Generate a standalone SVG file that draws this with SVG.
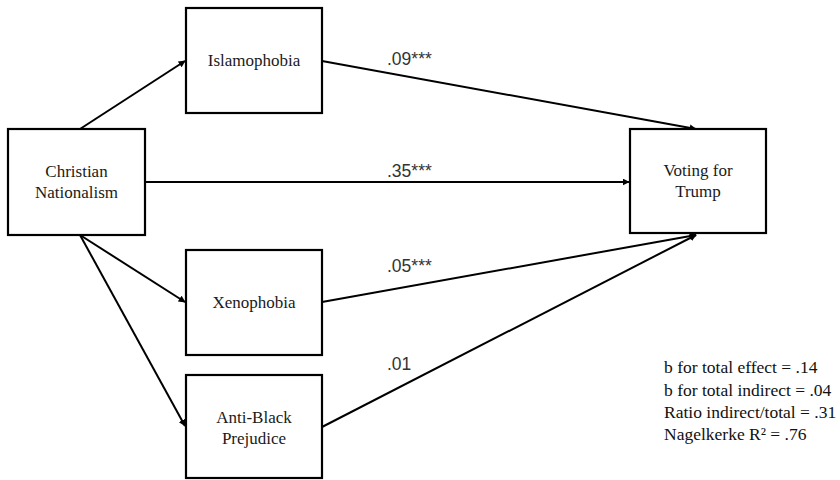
<svg xmlns="http://www.w3.org/2000/svg" width="840" height="480" viewBox="0 0 840 480">
<style>
.box{fill:#fff;stroke:#000;stroke-width:2.2}
.t{font-size:17px;fill:#1a1a1a;text-anchor:middle}
.lbl{font-size:17.5px;fill:#333}
.st{font-size:17.5px;fill:#111}
.c{stroke:#000;stroke-width:2;fill:none;marker-end:url(#ah)}
</style>
<defs>
<marker id="ah" viewBox="0 0 10 10" refX="9" refY="5" markerWidth="3.5" markerHeight="3.5" orient="auto" markerUnits="strokeWidth">
<path d="M0,0 L10,5 L0,10 z" fill="#000"/>
</marker>
</defs>
<rect width="840" height="480" fill="#fff"/>
<g id="connectors">
<line class="c" x1="80" y1="129" x2="185" y2="61"/>
<line class="c" x1="322" y1="61" x2="696" y2="129"/>
<line class="c" x1="145" y1="182" x2="629" y2="182"/>
<line class="c" x1="80" y1="235" x2="185" y2="302"/>
<line class="c" x1="80" y1="235" x2="185" y2="426"/>
<line class="c" x1="322" y1="302" x2="696" y2="235"/>
<line class="c" x1="322" y1="427" x2="696" y2="235"/>
</g>
<g id="labels" font-family="Liberation Sans, Arial, sans-serif">
<text class="lbl" x="387" y="65">.09***</text>
<text class="lbl" x="387" y="177">.35***</text>
<text class="lbl" x="387" y="272">.05***</text>
<text class="lbl" x="387" y="370">.01</text>
</g>
<g id="christian-nationalism" font-family="Liberation Serif, Times New Roman, serif">
<rect class="box" x="8" y="129" width="137" height="106"/>
<text class="t" x="76.5" y="177">Christian</text>
<text class="t" x="76.5" y="198">Nationalism</text>
</g>
<g id="islamophobia" font-family="Liberation Serif, Times New Roman, serif">
<rect class="box" x="186" y="8" width="136" height="105"/>
<text class="t" x="254" y="66">Islamophobia</text>
</g>
<g id="xenophobia" font-family="Liberation Serif, Times New Roman, serif">
<rect class="box" x="186" y="250" width="136" height="105"/>
<text class="t" x="254" y="308">Xenophobia</text>
</g>
<g id="anti-black-prejudice" font-family="Liberation Serif, Times New Roman, serif">
<rect class="box" x="186" y="375" width="136" height="103"/>
<text class="t" x="254" y="423">Anti-Black</text>
<text class="t" x="254" y="444">Prejudice</text>
</g>
<g id="voting-for-trump" font-family="Liberation Serif, Times New Roman, serif">
<rect class="box" x="630" y="129" width="136" height="104"/>
<text class="t" x="698" y="176">Voting  for</text>
<text class="t" x="698" y="197">Trump</text>
</g>
<g id="stats" font-family="Liberation Serif, Times New Roman, serif">
<text class="st" x="664" y="373">b for total effect = .14</text>
<text class="st" x="664" y="396">b for total indirect = .04</text>
<text class="st" x="664" y="418">Ratio indirect/total = .31</text>
<text class="st" x="664" y="440">Nagelkerke R² = .76</text>
</g>
</svg>
